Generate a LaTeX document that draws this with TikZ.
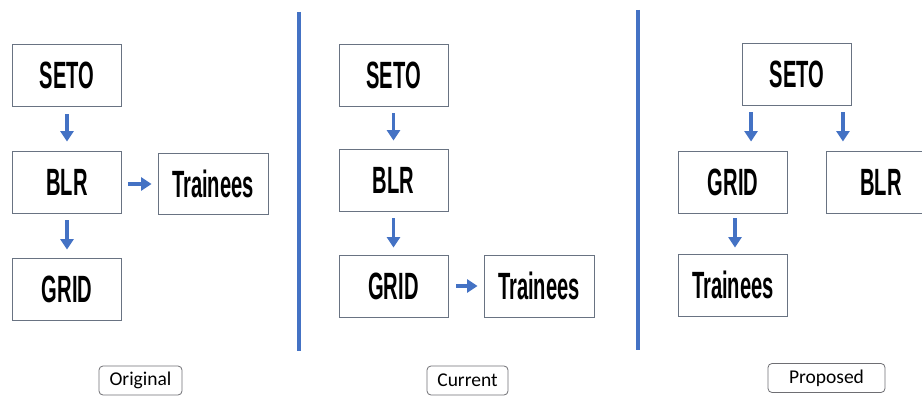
\documentclass[tikz,border=0pt]{standalone}
\usepackage{fontspec}
\setmainfont{Carlito}
\newfontfamily\boxfont[FakeStretch=0.53]{Liberation Sans}
\usetikzlibrary{arrows.meta,calc}
\definecolor{officeblue}{RGB}{68,114,196}
\definecolor{boxline}{RGB}{105,115,130}
\definecolor{tagline}{RGB}{110,110,115}
\begin{document}
\begin{tikzpicture}[x=1pt,y=-1pt,
  stagebox/.style={draw=boxline,line width=0.9pt,fill=white,minimum width=109pt,minimum height=62pt,inner sep=0pt,font=\boxfont\bfseries\fontsize{38}{40}\selectfont},
  tagbox/.style={draw=tagline,line width=0.8pt,rounded corners=4pt,inner sep=0pt,minimum height=29pt,font=\fontsize{19.5}{22}\selectfont},
  flow/.style={draw=officeblue,line width=3.5pt,-{Triangle[width=13pt,length=10.5pt]}},
  divider/.style={draw=officeblue,line width=3.5pt}]
\useasboundingbox (0,0) rectangle (922,396);
% dividers
\coordinate (d1t) at (299,12); \coordinate (d1b) at (299,351);
\coordinate (d2t) at (638,10); \coordinate (d2b) at (638,350);
\draw[divider] (d1t) -- (d1b);
\draw[divider] (d2t) -- (d2b);
% Original
\node[stagebox] (seto1) at (67,75) {SETO};
\node[stagebox] (blr1) at (67,182) {BLR};
\node[stagebox] (grid1) at (67,289) {GRID};
\node[stagebox,minimum width=110pt,minimum height=61pt] (tr1) at (213,184) {Trainees};
\draw[flow,shorten <=8pt,shorten >=9pt] (seto1) -- (blr1);
\draw[flow,shorten <=7pt,shorten >=8pt] (blr1) -- (grid1);
\draw[flow,shorten <=6pt,shorten >=6pt] (blr1.east |- tr1) -- (tr1.west);
% Current
\node[stagebox] (seto2) at (393.5,75) {SETO};
\node[stagebox] (blr2) at (393.5,180) {BLR};
\node[stagebox] (grid2) at (393.5,286) {GRID};
\node[stagebox,minimum width=110pt] (tr2) at (539,286) {Trainees};
\draw[flow,shorten <=7pt,shorten >=8pt] (seto2) -- (blr2);
\draw[flow,shorten <=7pt,shorten >=7pt] (blr2) -- (grid2);
\draw[flow,shorten <=8pt,shorten >=6pt] (grid2) -- (tr2);
% Proposed
\node[stagebox] (seto3) at (797,74) {SETO};
\node[stagebox] (grid3) at (733,182) {GRID};
\node[stagebox] (blr3) at (881,182) {BLR};
\node[stagebox] (tr3) at (733,285) {Trainees};
\draw[flow,shorten <=7pt,shorten >=9pt] ([xshift=9pt]seto3.south west) -- ([xshift=9pt]seto3.south west |- grid3.north);
\draw[flow,shorten <=7pt,shorten >=9pt] ([xshift=-9pt]seto3.south east) -- ([xshift=-9pt]seto3.south east |- blr3.north);
\draw[flow,shorten <=5pt,shorten >=6pt] ([xshift=2pt]grid3.south) -- ([xshift=2pt]tr3.north);
% tags
\node[tagbox,minimum width=83pt] (tag1) at (140.5,380.5) {Original};
\node[tagbox,minimum width=81pt] (tag2) at (467.5,380.5) {Current};
\node[tagbox,minimum width=117pt] (tag3) at (826.5,378) {Proposed};
\end{tikzpicture}
\end{document}
